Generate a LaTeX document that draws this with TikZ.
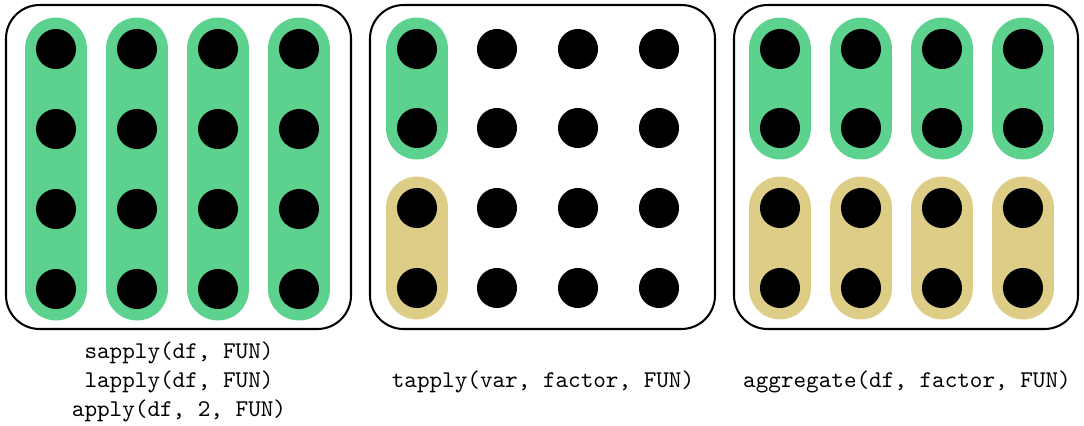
\documentclass[tikz,border=0pt]{standalone}
\usetikzlibrary{backgrounds}
\definecolor{capgreen}{HTML}{5DD28E}
\definecolor{captan}{HTML}{DDCD87}
\begin{document}
\begin{tikzpicture}[x=0.4167pt,y=-0.4167pt,
  dot/.style={circle,fill=black,inner sep=0pt,minimum size=16.7pt},
  frame/.style={draw=black,line width=0.85pt,rounded corners=14pt},
  capsule/.style={line width=26.2pt,line cap=round},
  lbl/.style={font=\ttfamily,align=center,inner sep=0pt}]
\useasboundingbox (0,0) rectangle (1084,425);
% frames
\draw[frame] (6,5) rectangle (351,329);
\draw[frame] (370,5) rectangle (715,329);
\draw[frame] (734,5) rectangle (1078,329);
% dots
\foreach \c [count=\j] in {56,137,218,299}
  \foreach \r [count=\i] in {49,129,209,289}
    \node[dot] (a\i\j) at (\c,\r) {};
\foreach \c [count=\j] in {417,497,578,659}
  \foreach \r [count=\i] in {49,128,208,288}
    \node[dot] (b\i\j) at (\c,\r) {};
\foreach \c [count=\j] in {780,861,942,1023}
  \foreach \r [count=\i] in {49,128,208,288}
    \node[dot] (c\i\j) at (\c,\r) {};
% capsules
\begin{scope}[on background layer]
  \foreach \j in {1,2,3,4}
    \draw[capsule,capgreen] (a1\j.center) -- (a4\j.center);
  \draw[capsule,capgreen] (b11.center) -- (b21.center);
  \draw[capsule,captan] (b31.center) -- (b41.center);
  \foreach \j in {1,2,3,4} {
    \draw[capsule,capgreen] (c1\j.center) -- (c2\j.center);
    \draw[capsule,captan] (c3\j.center) -- (c4\j.center);
  }
\end{scope}
% labels
\node[lbl] (l1) at (179,382) {sapply(df, FUN)\\lapply(df, FUN)\\apply(df, 2, FUN)};
\node[lbl] (l2) at (543,382) {tapply(var, factor, FUN)};
\node[lbl] (l3) at (907,382) {aggregate(df, factor, FUN)};
\end{tikzpicture}
\end{document}
